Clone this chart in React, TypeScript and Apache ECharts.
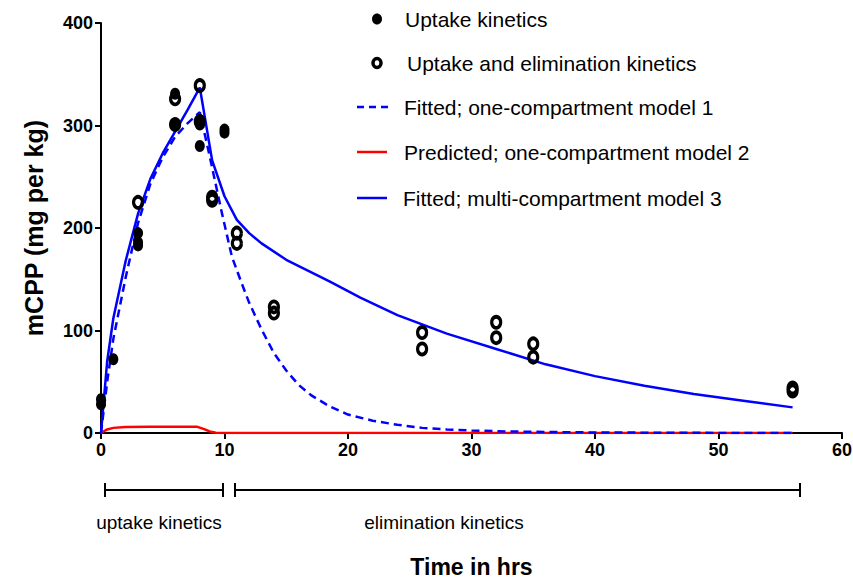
import React, { useEffect, useRef } from "react";
import * as echarts from "echarts";

// Measured data: uptake kinetics (filled dots)
const uptakePoints: [number, number][] = [
  [0, 33], [0, 28], [1, 72],
  [3, 195], [3, 186], [3, 183],
  [6, 331], [6, 300],
  [8, 305], [8, 301], [8, 280],
  [10, 296], [10, 293],
];

// Measured data: uptake and elimination kinetics (open rings)
const elimPoints: [number, number][] = [
  [3, 225], [6, 326], [6, 301], [8, 339], [8, 304],
  [9, 230], [9, 227], [11, 195], [11, 185],
  [14, 123], [14, 117], [26, 98], [26, 82],
  [32, 108], [32, 93], [35, 87], [35, 74], [56, 44], [56, 41],
];

// Fitted; one-compartment model 1 (dashed)
const model1: [number, number][] = [
  [0, 0], [0.5, 50], [1, 92], [2, 152], [3, 205], [4, 243], [5, 269], [6, 289],
  [7, 302], [8, 313], [8.8, 270], [9.8, 214], [10.6, 172], [11.3, 149], [12, 127],
  [13, 101], [14, 78], [15, 61], [16, 47], [17, 37], [18.5, 26], [20, 18], [22, 12],
  [24, 8], [26, 5], [28, 3.5], [30, 2.5], [33, 1.5], [36, 1], [40, 0.5], [45, 0.3],
  [50, 0.1], [56, 0],
];

// Predicted; one-compartment model 2 (red)
const model2: [number, number][] = [
  [0, 0], [0.5, 3.5], [1, 5], [2, 5.8], [4, 6], [6, 6], [7.8, 6], [8.3, 4],
  [8.8, 1.5], [9.3, 0.3], [10, 0], [56, 0],
];

// Fitted; multi-compartment model 3 (solid blue)
const model3: [number, number][] = [
  [0, 0], [0.5, 70], [1, 112], [2, 168], [3, 214], [4, 248], [5, 273], [6, 294],
  [7, 315], [8, 337], [9, 266], [10, 231], [11, 208], [12, 195], [13, 185],
  [15, 169], [18.5, 148], [21, 132], [24, 115], [28, 97], [32, 82], [36, 67],
  [40, 55.5], [44, 46], [48, 38], [52, 31.5], [56, 25],
];

const xTicks = { min: 0, max: 60, interval: 10 };
const yTicks = { min: 0, max: 400, interval: 100 };

const legendLabels = [
  "Uptake kinetics",
  "Uptake and elimination kinetics",
  "Fitted; one-compartment model 1",
  "Predicted; one-compartment model 2",
  "Fitted; multi-compartment model 3",
];

const FONT = "'Liberation Sans', Arial, sans-serif";

export default function App() {
  const ref = useRef<HTMLDivElement>(null);
  useEffect(() => {
    document.body.style.margin = "0";
    document.body.style.overflow = "hidden";
    if (!ref.current) return;
    const chart = echarts.init(ref.current, null, { renderer: "svg" });
    const legendY = [19, 63, 107, 152, 198];
    const legendTextX = [405, 407, 404, 404, 403];
    const graphic: any[] = [];
    graphic.push({ type: "ellipse", shape: { cx: 377, cy: legendY[0], rx: 5, ry: 5.5 }, style: { fill: "#000" } });
    graphic.push({ type: "ellipse", shape: { cx: 377, cy: legendY[1], rx: 4, ry: 4.5 }, style: { fill: "none", stroke: "#000", lineWidth: 3.5 } });
    graphic.push({ type: "line", shape: { x1: 357, y1: legendY[2], x2: 388, y2: legendY[2] }, style: { stroke: "#0000ff", lineWidth: 2.5, lineDash: [7, 5] } });
    graphic.push({ type: "line", shape: { x1: 357, y1: legendY[3], x2: 387, y2: legendY[3] }, style: { stroke: "#ff0000", lineWidth: 2.5 } });
    graphic.push({ type: "line", shape: { x1: 357, y1: legendY[4], x2: 387, y2: legendY[4] }, style: { stroke: "#0000ff", lineWidth: 2.5 } });
    legendLabels.forEach((t, i) => {
      graphic.push({
        type: "text", x: legendTextX[i], y: legendY[i],
        style: { text: t, font: `21px ${FONT}`, fill: "#000", verticalAlign: "middle", align: "left" },
      });
    });
    const bracket = (x1: number, x2: number) => {
      const y = 490;
      graphic.push({ type: "line", shape: { x1, y1: y, x2, y2: y }, style: { stroke: "#000", lineWidth: 2 } });
      graphic.push({ type: "line", shape: { x1, y1: y - 7, x2: x1, y2: y + 7 }, style: { stroke: "#000", lineWidth: 2 } });
      graphic.push({ type: "line", shape: { x1: x2, y1: y - 7, x2, y2: y + 7 }, style: { stroke: "#000", lineWidth: 2 } });
    };
    bracket(105, 223);
    bracket(235, 800);
    graphic.push({ type: "text", x: 159, y: 522, style: { text: "uptake kinetics", font: `19px ${FONT}`, fill: "#000", align: "center", verticalAlign: "middle" } });
    graphic.push({ type: "text", x: 444, y: 522, style: { text: "elimination kinetics", font: `19px ${FONT}`, fill: "#000", align: "center", verticalAlign: "middle" } });

    chart.setOption({
      animation: false,
      backgroundColor: "#fff",
      grid: { left: 101, right: 11, top: 23, bottom: 146, containLabel: false, outerBoundsMode: "none" },
      xAxis: {
        type: "value", min: xTicks.min, max: xTicks.max, interval: xTicks.interval,
        name: "Time in hrs", nameLocation: "middle", nameGap: 122,
        nameTextStyle: { fontFamily: FONT, fontSize: 23, fontWeight: "bold", color: "#000" },
        axisLine: { lineStyle: { color: "#000", width: 2 } },
        axisTick: { show: true, inside: false, length: 6, lineStyle: { color: "#000", width: 2 } },
        axisLabel: { fontFamily: FONT, fontSize: 18, fontWeight: "bold", color: "#000", margin: 8 },
        splitLine: { show: false },
      },
      yAxis: {
        type: "value", min: yTicks.min, max: yTicks.max, interval: yTicks.interval,
        name: "mCPP (mg per kg)", nameLocation: "middle", nameGap: 55,
        nameTextStyle: { fontFamily: FONT, fontSize: 25, fontWeight: "bold", color: "#000" },
        axisLine: { show: true, lineStyle: { color: "#000", width: 2 } },
        axisTick: { show: true, inside: false, length: 6, lineStyle: { color: "#000", width: 2 } },
        axisLabel: { fontFamily: FONT, fontSize: 18, fontWeight: "bold", color: "#000", margin: 8 },
        splitLine: { show: false },
      },
      series: [
        {
          type: "line", name: legendLabels[2], data: model1, showSymbol: false, symbol: "none",
          lineStyle: { color: "#0000ff", width: 2.5, type: [8, 5] }, z: 3,
        },
        {
          type: "line", name: legendLabels[3], data: model2, showSymbol: false, symbol: "none",
          lineStyle: { color: "#ff0000", width: 2.5 }, z: 2,
        },
        {
          type: "line", name: legendLabels[4], data: model3, showSymbol: false, symbol: "none",
          lineStyle: { color: "#0000ff", width: 2.5 }, z: 3,
        },
        {
          type: "scatter", name: legendLabels[0], data: uptakePoints, symbol: "circle", symbolSize: [10, 12],
          itemStyle: { color: "#000", opacity: 1 }, z: 5,
        },
        {
          type: "scatter", name: legendLabels[1], data: elimPoints, symbol: "circle", symbolSize: [9, 11],
          itemStyle: { color: "rgba(0,0,0,0)", borderColor: "#000", borderWidth: 3.5, opacity: 1 }, z: 6,
        },
      ],
      graphic,
    });
    return () => chart.dispose();
  }, []);
  return (
    <div
      ref={ref}
      style={{ position: "absolute", left: 0, top: 0, width: 853, height: 579 }}
    />
  );
}
